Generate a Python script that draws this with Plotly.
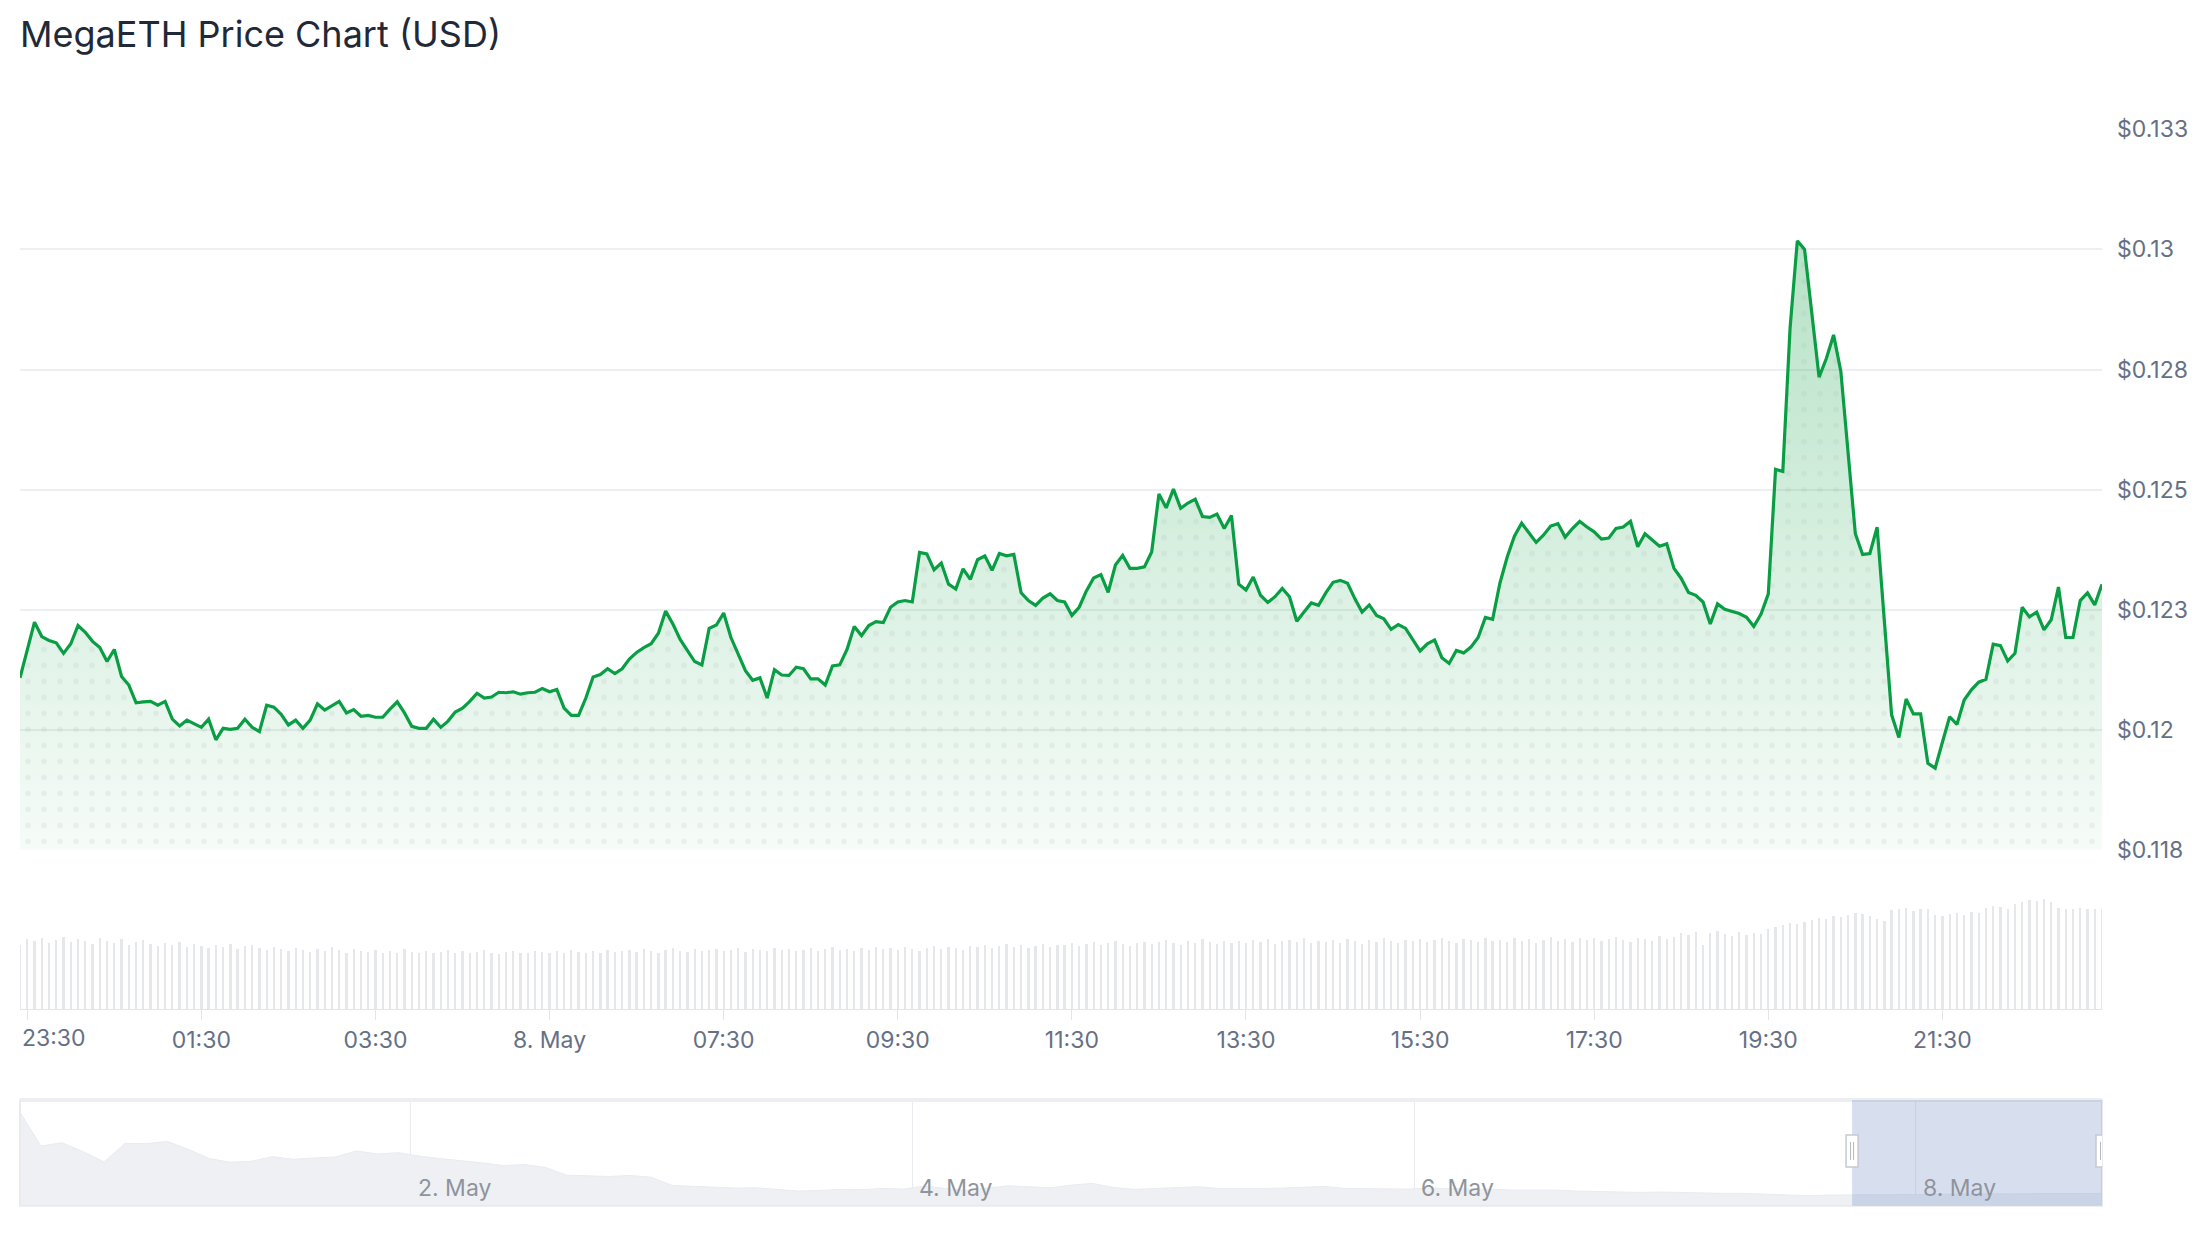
import plotly.graph_objects as go
import pandas as pd

W, H = 2208, 1248
FONT = "Inter, 'Noto Sans', sans-serif"

# ---------------- data ----------------
price = [
    0.12108, 0.12166, 0.12224, 0.12194, 0.12186, 0.12181, 0.12159, 0.12179, 0.12217, 0.12203,
    0.12184, 0.12171, 0.12142, 0.12167, 0.12111, 0.12093, 0.12056, 0.12058, 0.12059, 0.12051,
    0.12059, 0.12022, 0.12008, 0.12020, 0.12012, 0.12005, 0.12022, 0.11979, 0.12003, 0.12001,
    0.12003, 0.12022, 0.12005, 0.11996, 0.12051, 0.12047, 0.12032, 0.12010, 0.12020, 0.12003,
    0.12020, 0.12054, 0.12041, 0.12050, 0.12059, 0.12035, 0.12042, 0.12028, 0.12030, 0.12026,
    0.12026, 0.12043, 0.12058, 0.12035, 0.12007, 0.12003, 0.12003, 0.12022, 0.12005, 0.12018,
    0.12037, 0.12045, 0.12059, 0.12076, 0.12066, 0.12068, 0.12078, 0.12077, 0.12079, 0.12074,
    0.12077, 0.12078,
    0.12086, 0.12079, 0.12084, 0.12045, 0.12030, 0.12030, 0.12066, 0.12110, 0.12115, 0.12127,
    0.12117, 0.12127, 0.12147, 0.12161, 0.12171, 0.12179, 0.12201, 0.12247, 0.12220, 0.12188,
    0.12164, 0.12142, 0.12135, 0.12211, 0.12218, 0.12243, 0.12192, 0.12159, 0.12123, 0.12103,
    0.12108, 0.12066, 0.12125, 0.12114, 0.12113, 0.12130, 0.12127, 0.12106, 0.12106, 0.12093,
    0.12133, 0.12135, 0.12167, 0.12215, 0.12196, 0.12217, 0.12225, 0.12223, 0.12255, 0.12266,
    0.12269, 0.12266, 0.12369, 0.12366, 0.12333, 0.12347, 0.12303, 0.12293, 0.12335, 0.12313,
    0.12354, 0.12362, 0.12332, 0.12367, 0.12362, 0.12365, 0.12285, 0.12269, 0.12259, 0.12274,
    0.12283, 0.12269, 0.12266, 0.12238, 0.12255, 0.12289, 0.12316, 0.12323,
    0.12286, 0.12343, 0.12363, 0.12336, 0.12336, 0.12339, 0.12370, 0.12491, 0.12462, 0.12501,
    0.12461, 0.12472, 0.12480, 0.12444, 0.12442, 0.12449, 0.12419, 0.12446, 0.12303, 0.12291,
    0.12318, 0.12280, 0.12265, 0.12277, 0.12294, 0.12277, 0.12226, 0.12245, 0.12264, 0.12259,
    0.12285, 0.12307, 0.12311, 0.12305, 0.12273, 0.12245, 0.12260, 0.12238, 0.12231, 0.12209,
    0.12219, 0.12211, 0.12187, 0.12164, 0.12179, 0.12187, 0.12150, 0.12138, 0.12165, 0.12160,
    0.12172, 0.12192, 0.12234, 0.12230, 0.12305, 0.12359, 0.12403, 0.12430, 0.12410, 0.12390,
    0.12405, 0.12424, 0.12429, 0.12401, 0.12419, 0.12434, 0.12422, 0.12412, 0.12397, 0.12399,
    0.12419, 0.12422, 0.12434, 0.12381,
    0.12408, 0.12394, 0.12382, 0.12387, 0.12336, 0.12315, 0.12286, 0.12280, 0.12266, 0.12220,
    0.12262, 0.12251, 0.12246, 0.12242, 0.12234, 0.12215, 0.12241, 0.12283, 0.12542, 0.12538,
    0.12836, 0.13018, 0.13000, 0.12867, 0.12734, 0.12773, 0.12822, 0.12746, 0.12579, 0.12408,
    0.12365, 0.12367, 0.12422, 0.12221, 0.12031, 0.11984, 0.12064, 0.12033, 0.12033, 0.11930,
    0.11920, 0.11974, 0.12027, 0.12011, 0.12062, 0.12083, 0.12099, 0.12105, 0.12178, 0.12175,
    0.12143, 0.12159, 0.12255, 0.12235, 0.12245, 0.12208, 0.12229, 0.12297, 0.12192, 0.12192,
    0.12269, 0.12285, 0.12260, 0.12303,
]

volume = [
    66, 72, 70, 73, 68, 71, 74, 69, 72, 70, 67, 73,
    70, 68, 72, 66, 69, 71, 67, 65, 68, 66, 69, 64,
    67, 65, 63, 66, 64, 67, 62, 65, 66, 63, 61, 64,
    62, 60, 63, 61, 59, 62, 60, 64, 61, 58, 62, 60,
    59, 61, 58, 60, 57, 62, 59, 58, 60, 57, 59, 61,
    58, 60, 57, 59, 61, 58, 56, 59, 60, 58, 57, 60,
    59, 57, 60, 58, 61, 59, 57, 60, 58, 61, 59, 60,
    61, 59, 62, 60, 58, 61, 63, 60, 59, 62, 60, 61,
    62, 60, 61, 63, 59, 62, 61, 60, 63, 61, 62, 60,
    61, 63, 60, 62, 64, 61, 62, 60, 63, 61, 64, 62,
    63, 61, 64, 62, 60, 63, 65, 62, 64, 63, 61, 65,
    64, 66, 63, 65, 67, 64, 66, 63, 65, 67, 64, 66,
    66, 68, 65, 67, 69, 66, 68, 70, 67, 65, 68, 69,
    67, 69, 71, 68, 66, 70, 68, 72, 69, 67, 70, 68,
    70, 68, 71, 69, 72, 67, 70, 71, 69, 73, 68, 70,
    69, 71, 68, 72, 70, 67, 71, 69, 73, 70, 68, 71,
    70, 72, 69, 71, 73, 70, 68, 72, 71, 69, 73, 70,
    71, 69, 73, 70, 72, 68, 71, 74, 70, 72, 69, 73,
    71, 73, 70, 72, 74, 71, 69, 73, 72, 70, 75, 72,
    74, 78, 76, 79, 66, 78, 80, 77, 75, 79, 76, 78,
    77, 82, 84, 86, 88, 87, 89, 91, 93, 92, 95, 94,
    96, 98, 97, 95, 92, 90, 101, 103, 104, 100, 102, 103,
    96, 95, 97, 98, 96, 99, 98, 104, 106, 105, 103, 108,
    110, 112, 111, 113, 110, 104, 103, 102, 104, 103, 102, 103,
]

nav_price = [
    0.3065, 0.2300, 0.2375, 0.2173, 0.1940, 0.2360, 0.2353, 0.2405, 0.2225, 0.2015,
    0.1933, 0.1955, 0.2060, 0.2000, 0.2030, 0.2053, 0.2188, 0.2120, 0.2150, 0.2068,
    0.2015, 0.1970, 0.1918, 0.1858, 0.1880, 0.1813, 0.1640, 0.1625, 0.1610, 0.1633,
    0.1595, 0.1408, 0.1393, 0.1370, 0.1348, 0.1355, 0.1310, 0.1280, 0.1295, 0.1318,
    0.1310, 0.1340, 0.1325, 0.1393, 0.1340, 0.1295, 0.1348, 0.1400, 0.1378, 0.1355,
    0.1415, 0.1453, 0.1363, 0.1318, 0.1340, 0.1355, 0.1378, 0.1340, 0.1333, 0.1340,
    0.1348, 0.1370, 0.1385, 0.1340, 0.1340, 0.1340, 0.1325, 0.1348, 0.1340, 0.1340,
    0.1318, 0.1303, 0.1303, 0.1303, 0.1280, 0.1265, 0.1258, 0.1250, 0.1258, 0.1243,
    0.1243, 0.1228, 0.1228, 0.1205, 0.1183, 0.1175, 0.1190, 0.1190, 0.1198, 0.1205,
    0.1205, 0.1205, 0.1213, 0.1213, 0.1213, 0.1228, 0.1228, 0.1228, 0.1228, 0.1228,
]

x_tick_times = ['2025-05-07 23:30', '2025-05-08 01:30', '2025-05-08 03:30', '2025-05-08 05:30',
                '2025-05-08 07:30', '2025-05-08 09:30', '2025-05-08 11:30', '2025-05-08 13:30',
                '2025-05-08 15:30', '2025-05-08 17:30', '2025-05-08 19:30', '2025-05-08 21:30']
x_tick_labels = ['23:30', '01:30', '03:30', '8. May', '07:30', '09:30', '11:30', '13:30',
                 '15:30', '17:30', '19:30', '21:30']
y_tick_values = [0.1175, 0.12, 0.1225, 0.125, 0.1275, 0.13, 0.1325]
y_tick_labels = ['$0.118', '$0.12', '$0.123', '$0.125', '$0.128', '$0.13', '$0.133']
nav_tick_times = ['2025-05-02 05:30', '2025-05-04 05:30', '2025-05-06 05:30', '2025-05-08 05:30']
nav_tick_labels = ['2. May', '4. May', '6. May', '8. May']

times = pd.date_range('2025-05-07 23:25', periods=len(price), freq='5min')
nav_times = pd.date_range(end=times[-1], periods=len(nav_price), freq='7245s')
t0, t1 = times[0], times[-1]


def px(v):
    return v / W


def py(v):
    return 1 - v / H


X_DOM = [px(20), px(2102)]
LABEL_COLOR = '#667085'
GRID = '#edeff2'
LBL = 23

fig = go.Figure()

fig.add_trace(go.Bar(
    x=times, y=volume, xaxis='x', yaxis='y2',
    marker=dict(color='#e5e7eb', line=dict(width=0)),
    width=95000, hoverinfo='skip'))

fig.add_trace(go.Scatter(
    x=times, y=price, mode='lines', fill='tozeroy',
    line=dict(width=0, color='rgba(0,0,0,0)'),
    fillgradient=dict(type='vertical',
                      colorscale=[[0, 'rgba(22,163,74,0.03)'], [1, 'rgba(22,163,74,0.36)']],
                      start=0.1175, stop=0.1325),
    hoverinfo='skip'))

fig.add_trace(go.Scatter(
    x=times, y=price, mode='lines', fill='tozeroy',
    line=dict(width=0, color='rgba(0,0,0,0)'),
    fillcolor='rgba(0,0,0,0)',
    fillpattern=dict(shape='.', size=16, solidity=0.1,
                     fgcolor='rgba(160,175,168,0.3)', bgcolor='rgba(0,0,0,0)',
                     fillmode='overlay'),
    hoverinfo='skip'))

fig.add_trace(go.Scatter(
    x=times, y=price, mode='lines',
    line=dict(color='#0a9e44', width=3.2)))

fig.add_trace(go.Scatter(
    x=nav_times, y=nav_price, xaxis='x3', yaxis='y3', mode='lines', fill='tozeroy',
    line=dict(width=1, color='#e8ebef'), fillcolor='#eef0f4', hoverinfo='skip'))

shapes = []
# navigator outline
shapes.append(dict(type='rect', xref='paper', yref='paper',
                   x0=X_DOM[0], x1=X_DOM[1], y0=py(1219), y1=py(1111),
                   line=dict(color='#e8eaee', width=2), fillcolor='rgba(0,0,0,0)', layer='above'))
shapes.append(dict(type='line', xref='paper', yref='paper',
                   x0=X_DOM[0], x1=X_DOM[1], y0=py(1111), y1=py(1111),
                   line=dict(color='#eceef1', width=4), layer='above'))
# selected range mask
shapes.append(dict(type='rect', xref='x3', yref='paper', x0=t0, x1=t1,
                   y0=py(1219), y1=py(1111),
                   fillcolor='rgba(102,133,194,0.26)', line=dict(width=0), layer='above'))
# handles
for anchor in (t0, t1):
    shapes.append(dict(type='rect', xref='x3', yref='paper', xsizemode='pixel', ysizemode='pixel',
                       xanchor=anchor, yanchor=py(1163), x0=-6, x1=6, y0=-16, y1=16,
                       fillcolor='white', line=dict(color='#c5cad2', width=1.5), layer='above'))
    for dx in (-1.5, 1.5):
        shapes.append(dict(type='line', xref='x3', yref='paper', xsizemode='pixel', ysizemode='pixel',
                           xanchor=anchor, yanchor=py(1163), x0=dx, x1=dx, y0=-9, y1=9,
                           line=dict(color='#b4b9c1', width=1), layer='above'))

annotations = [
    dict(text=x_tick_labels[0], xref='paper', yref='paper', x=px(20), y=py(1048),
         xanchor='left', yanchor='middle', showarrow=False,
         font=dict(family=FONT, size=LBL, color=LABEL_COLOR)),
]
for t, lab in zip(nav_tick_times, nav_tick_labels):
    annotations.append(dict(text=lab, xref='x3', yref='paper', x=t, y=py(1201),
                            xanchor='left', yanchor='middle', xshift=5, showarrow=False,
                            font=dict(family=FONT, size=LBL, color='#8f949c')))

fig.update_layout(
    width=W, height=H, autosize=False,
    margin=dict(l=0, r=0, t=0, b=0),
    paper_bgcolor='white', plot_bgcolor='rgba(0,0,0,0)',
    showlegend=False, bargap=0,
    font=dict(family=FONT),
    title=dict(text='MegaETH Price Chart (USD)', x=px(20), xanchor='left', xref='paper',
               y=py(34), yanchor='middle', yref='container',
               font=dict(family=FONT, size=36, color='#1f2937')),
    xaxis=dict(domain=X_DOM, anchor='y2', range=[t0, t1], type='date',
               tickmode='array', tickvals=x_tick_times, ticktext=[''] + x_tick_labels[1:],
               ticks='outside', ticklen=10, tickcolor='#e3e5e8', tickwidth=1,
               showline=True, linecolor='#e3e5e8', linewidth=1,
               showgrid=False, zeroline=False,
               tickfont=dict(family=FONT, size=LBL, color=LABEL_COLOR)),
    yaxis=dict(domain=[py(855), py(118)], anchor='x', side='right',
               range=[0.1175, 0.1325], tickmode='array',
               tickvals=y_tick_values, ticktext=y_tick_labels,
               showgrid=True, gridcolor=GRID, gridwidth=1.5, zeroline=False,
               showline=False, ticks='', ticklabelstandoff=14,
               tickfont=dict(family=FONT, size=LBL, color=LABEL_COLOR)),
    yaxis2=dict(domain=[py(1018), py(893)], anchor='x', range=[0, 125],
                showgrid=False, zeroline=False, showticklabels=False, showline=False, ticks=''),
    xaxis3=dict(domain=X_DOM, anchor='y3', range=[nav_times[0], t1], type='date',
                tickmode='array', tickvals=nav_tick_times, showticklabels=False,
                showgrid=True, gridcolor='#e9ebee', gridwidth=1, ticks='',
                showline=False, zeroline=False),
    yaxis3=dict(domain=[py(1219), py(1111)], anchor='x3', range=[0.095, 0.334],
                showgrid=False, zeroline=False, showticklabels=False, showline=False, ticks=''),
    shapes=shapes,
    annotations=annotations,
)

fig.write_html('out.html')
